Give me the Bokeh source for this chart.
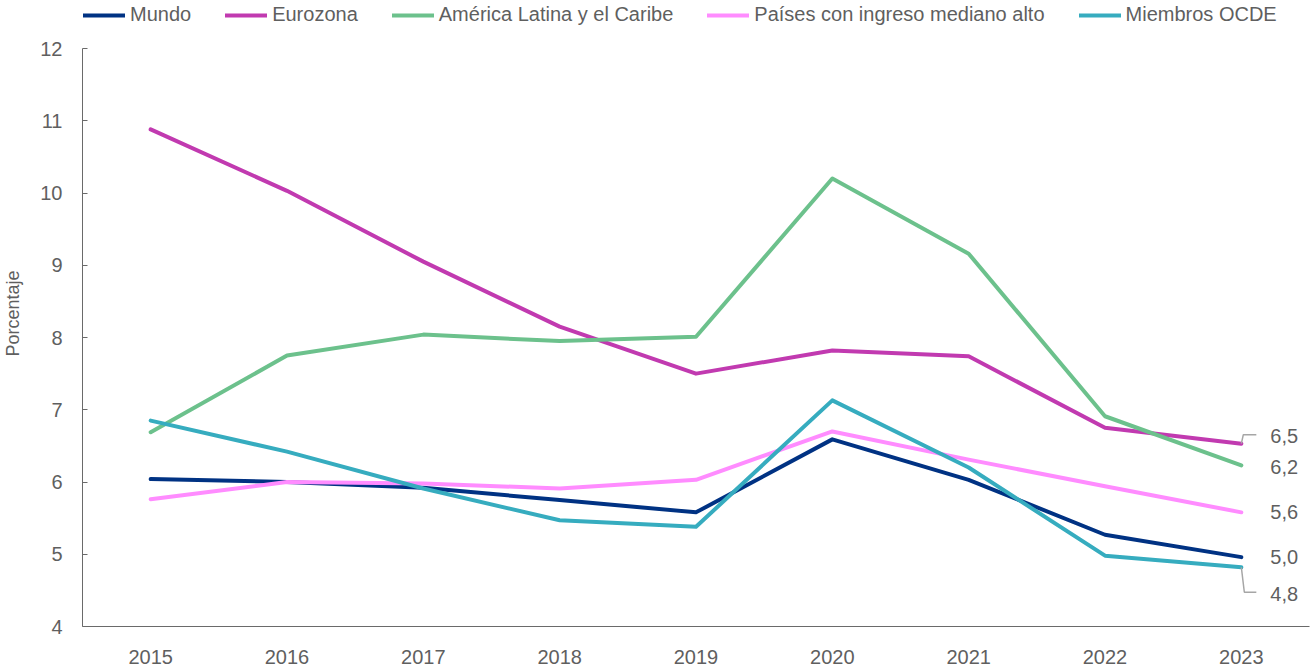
from bokeh.plotting import figure
from bokeh.models import Legend, LegendItem, FixedTicker, Range1d
from bokeh.core.properties import value
from bokeh.embed import file_html
from bokeh.resources import INLINE

years = [2015, 2016, 2017, 2018, 2019, 2020, 2021, 2022, 2023]
mundo = [6.04, 6.00, 5.92, 5.75, 5.58, 6.59, 6.03, 5.27, 4.96]
eurozona = [10.88, 10.03, 9.05, 8.15, 7.50, 7.82, 7.74, 6.75, 6.53]
america_latina = [6.69, 7.75, 8.04, 7.95, 8.01, 10.20, 9.16, 6.91, 6.23]
ingreso_mediano_alto = [5.76, 6.00, 5.98, 5.91, 6.03, 6.70, 6.31, 5.94, 5.58]
ocde = [6.85, 6.42, 5.91, 5.47, 5.38, 7.13, 6.20, 4.98, 4.82]

series_names = ["Mundo", "Eurozona", "América Latina y el Caribe",
                "Países con ingreso mediano alto", "Miembros OCDE"]
series_values = [mundo, eurozona, america_latina, ingreso_mediano_alto, ocde]
series_colors = ["#003283", "#C13AB0", "#6CC18C", "#FF8CFF", "#36ACBF"]
y_ticks = [4, 5, 6, 7, 8, 9, 10, 11, 12]

FONT = "Liberation Sans"
TXT = "#5f5f5f"

W, H = 1314, 668
ML, MR, MB = 82, 5, 42
TOP_PX = 48                      # space above the value 12 (holds the legend)
frame_w = W - ML - MR
frame_h = H - MB
y_lo, y_hi = 4, 12
dy = (y_hi - y_lo) / (frame_h - TOP_PX)
y_end = y_hi + TOP_PX * dy
dx = 9.0 / frame_w

p = figure(width=W, height=H, output_backend="svg", toolbar_location=None,
           x_range=Range1d(2014.5, 2023.5), y_range=Range1d(y_lo, y_end),
           min_border_left=ML, min_border_right=MR, min_border_top=0,
           min_border_bottom=MB)
p.outline_line_color = None
p.xgrid.grid_line_color = None
p.ygrid.grid_line_color = None
p.background_fill_color = "white"
p.border_fill_color = "white"

# axes
p.xaxis.ticker = FixedTicker(ticks=years)
p.xaxis.major_tick_line_color = None
p.xaxis.minor_tick_line_color = None
p.xaxis.axis_line_color = "#6a6a6a"
p.xaxis.major_label_standoff = 17
p.xaxis.major_label_text_font = FONT
p.xaxis.major_label_text_font_size = "20px"
p.xaxis.major_label_text_color = TXT

p.yaxis.ticker = FixedTicker(ticks=y_ticks)
p.yaxis.bounds = (y_lo, y_hi)
p.yaxis.minor_tick_line_color = None
p.yaxis.major_tick_in = 5
p.yaxis.major_tick_out = 0
p.yaxis.major_tick_line_color = "#6a6a6a"
p.yaxis.axis_line_color = "#6a6a6a"
p.yaxis.major_label_standoff = 20
p.yaxis.major_label_text_font = FONT
p.yaxis.major_label_text_font_size = "20px"
p.yaxis.major_label_text_color = TXT
p.yaxis.axis_label = "Porcentaje"
p.yaxis.axis_label_text_font = FONT
p.yaxis.axis_label_text_font_size = "18px"
p.yaxis.axis_label_text_font_style = "normal"
p.yaxis.axis_label_text_color = TXT
p.yaxis.axis_label_standoff = 14

items = []
for name, vals, col in zip(series_names, series_values, series_colors):
    r = p.line(years, vals, line_color=col, line_width=4,
               line_join="round", line_cap="round")
    items.append(LegendItem(label=name, renderers=[r]))

legend = Legend(items=items, orientation="horizontal",
                location=(1, frame_h - 26),
                border_line_alpha=0, background_fill_alpha=0,
                label_text_font=FONT, label_text_font_size="20px",
                label_text_color=TXT, glyph_width=42, glyph_height=20,
                label_height=20, label_standoff=5, spacing=34,
                padding=0, margin=0)
p.add_layout(legend)

# end labels
last_vals = [v[-1] for v in series_values]
label_offsets_px = [0, -8, 2, 0, 27]  # screen px down
lab_x = [years[-1] + 29 * dx] * len(last_vals)
lab_y = [v - off * dy for v, off in zip(last_vals, label_offsets_px)]
lab_t = [f"{v:.1f}".replace(".", ",") for v in last_vals]
p.text(lab_x, lab_y, text=lab_t, text_font=value(FONT), text_font_size="20px",
       text_color=TXT, text_align="left", text_baseline="middle")

# leader lines for 6,5 (Eurozona) and 4,8 (OCDE)
e = eurozona[-1]
p.line([years[-1], years[-1] + 2 * dx, years[-1] + 15 * dx],
       [e, e + 9 * dy, e + 9 * dy], line_color="#A6A6A6", line_width=1.5)
o = ocde[-1]
p.line([years[-1], years[-1] + 3 * dx, years[-1] + 15 * dx],
       [o, o - 25 * dy, o - 25 * dy], line_color="#A6A6A6", line_width=1.5)

open("out.html", "w").write(file_html(p, INLINE))
